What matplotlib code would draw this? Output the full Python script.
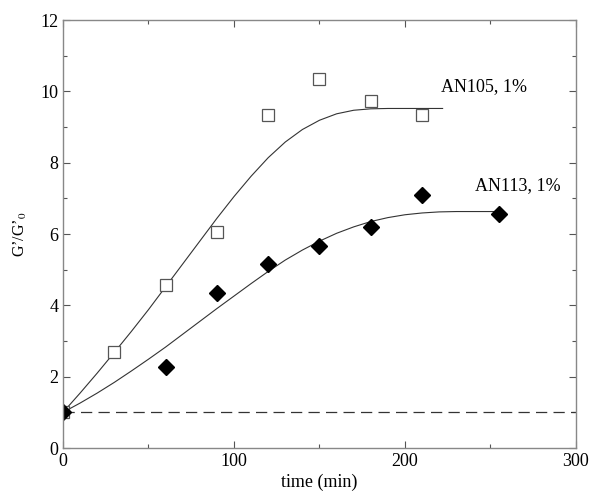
import matplotlib
matplotlib.use("Agg")
import matplotlib.pyplot as plt
import numpy as np

plt.rcParams['font.family'] = ['Liberation Serif', 'DejaVu Serif']
plt.rcParams['mathtext.fontset'] = 'stix'

# measured data
an105_t = [0, 30, 60, 90, 120, 150, 180, 210]
an105_g = [1.0, 2.7, 4.57, 6.05, 9.35, 10.35, 9.72, 9.35]
an113_t = [0, 60, 90, 120, 150, 180, 210, 255]
an113_g = [1.0, 2.28, 4.35, 5.15, 5.65, 6.2, 7.08, 6.55]

# fitted curves
fit105_t = [0, 10, 20, 30, 40, 50, 60, 70, 80, 90, 100, 110, 120, 130, 140,
            150, 160, 170, 180, 190, 200, 222]
fit105_g = [1.0, 1.54, 2.1, 2.68, 3.27, 3.88, 4.52, 5.16, 5.8, 6.44, 7.05, 7.62,
            8.14, 8.58, 8.93, 9.19, 9.37, 9.47, 9.51, 9.52, 9.52, 9.52]
fit113_t = [0, 10, 20, 30, 40, 50, 60, 70, 80, 90, 100, 110, 120, 130, 140,
            150, 160, 170, 180, 190, 200, 210, 220, 230, 252]
fit113_g = [1.0, 1.26, 1.54, 1.84, 2.16, 2.49, 2.83, 3.19, 3.55, 3.91, 4.26, 4.61,
            4.95, 5.27, 5.55, 5.8, 6.02, 6.2, 6.35, 6.46, 6.54, 6.59, 6.62, 6.63, 6.63]

fig = plt.figure(figsize=(5.91, 4.98), dpi=100)
ax = fig.add_axes([0.1066, 0.1004, 0.868, 0.8594])

ax.axhline(1.0, color='#333333', lw=0.9, ls=(0, (9, 5)))
ax.plot(fit105_t, fit105_g, color='#333333', lw=0.8)
ax.plot(fit113_t, fit113_g, color='#333333', lw=0.8)
ax.plot(an105_t, an105_g, ls='none', marker='s', ms=9, mfc='white', mec='#555555', mew=0.9)
ax.plot(an113_t, an113_g, ls='none', marker='D', ms=8, mfc='black', mec='black')

ax.text(221, 10.12, 'AN105, 1%', fontsize=13, va='center', ha='left')
ax.text(241, 7.37, 'AN113, 1%', fontsize=13, va='center', ha='left')

ax.set_xlim(0, 300)
ax.set_ylim(0, 12)
ax.set_xticks([0, 100, 200, 300])
ax.set_xticks([50, 150, 250], minor=True)
ax.set_yticks([0, 2, 4, 6, 8, 10, 12])
ax.set_yticks([1, 3, 5, 7, 9, 11], minor=True)
ax.tick_params(which='both', direction='in', top=True, right=True, labelsize=13, color='#555555')
ax.tick_params(which='major', length=5, width=0.8)
ax.tick_params(which='minor', length=3, width=0.8)
for s in ax.spines.values():
    s.set_color('#888888')
    s.set_linewidth(1.0)

ax.set_xlabel('time (min)', fontsize=13, labelpad=3)
ax.set_ylabel('G’/G’$_{\\rm 0}$', fontsize=11.5, labelpad=8)

fig.savefig('out.png', dpi=100)
